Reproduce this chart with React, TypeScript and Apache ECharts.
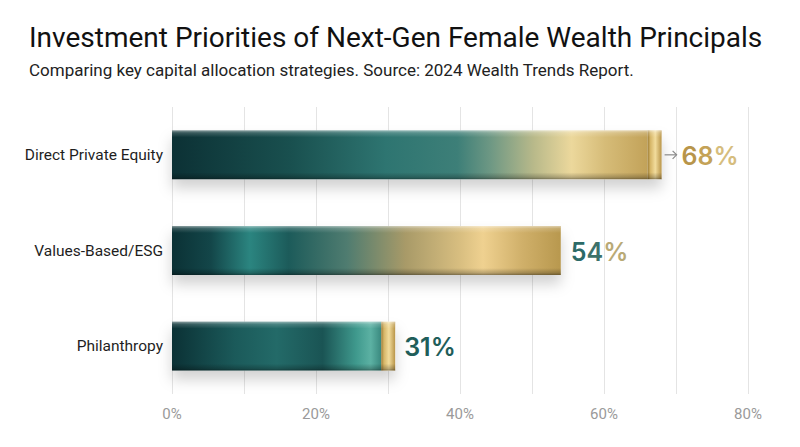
import React, { useEffect, useRef } from "react";
import * as echarts from "echarts";

const categories = ["Direct Private Equity", "Values-Based/ESG", "Philanthropy"];
const values = [68, 54, 31];
const axisMax = 80;
const axisStep = 10;
const labelStep = 20;

type BarStyle = {
  stops: [number, string][];
  cap: boolean;
  arrow: boolean;
  labelGap: number;
  labelColors: string[];
};

const barStyles: BarStyle[] = [
  {
    stops: [
      [0, "#0c3135"],
      [0.25, "#19504f"],
      [0.45, "#2e7571"],
      [0.6, "#3d7f78"],
      [0.67, "#6e9884"],
      [0.76, "#b8b98a"],
      [0.84, "#ecd89c"],
      [0.91, "#d6bc78"],
      [1, "#c2a259"],
    ],
    cap: true,
    arrow: true,
    labelGap: 20,
    labelColors: ["#b8954a", "#c4a257", "#d6bd7e"],
  },
  {
    stops: [
      [0, "#0b3135"],
      [0.1, "#134649"],
      [0.2, "#2b8580"],
      [0.3, "#1c5b5a"],
      [0.45, "#4f7c70"],
      [0.6, "#a89a68"],
      [0.74, "#d8be80"],
      [0.8, "#efd190"],
      [0.9, "#d0b06a"],
      [1, "#b8984e"],
    ],
    cap: false,
    arrow: false,
    labelGap: 10,
    labelColors: ["#2c6a67", "#3d716a", "#b9aa76"],
  },
  {
    stops: [
      [0, "#0b3135"],
      [0.3, "#1b5a5a"],
      [0.5, "#236a68"],
      [0.72, "#1a5454"],
      [0.88, "#3f998d"],
      [0.95, "#5cb1a3"],
      [1, "#3a897f"],
    ],
    cap: true,
    arrow: false,
    labelGap: 9,
    labelColors: ["#1f5e5a", "#1f5e5a", "#1f5e5a"],
  },
];

const CAP_W = 14;
const BAR_RATIO = 0.51;

export default function App() {
  const ref = useRef<HTMLDivElement>(null);

  useEffect(() => {
    if (!ref.current) return;
    const chart = echarts.init(ref.current, null, { renderer: "svg" });

    const renderItem = (params: any, api: any) => {
      const v = api.value(0);
      const idx = api.value(1);
      const st = barStyles[idx];
      const start = api.coord([0, idx]);
      const end = api.coord([v, idx]);
      const band = api.size([0, 1])[1];
      const h = band * BAR_RATIO;
      const y = start[1] - h / 2;
      const x0 = start[0];
      const x1 = end[0];
      const bodyEnd = st.cap ? x1 - CAP_W : x1;
      const children: any[] = [];

      children.push({
        type: "rect",
        shape: { x: x0, y, width: x1 - x0, height: h, r: 1 },
        style: {
          fill: "#ffffff",
          shadowBlur: 14,
          shadowOffsetY: 9,
          shadowColor: "rgba(0,0,0,0.18)",
        },
      });
      children.push({
        type: "rect",
        shape: { x: x0, y, width: bodyEnd - x0, height: h },
        style: {
          fill: new echarts.graphic.LinearGradient(
            0, 0, 1, 0,
            st.stops.map(([o, c]) => ({ offset: o, color: c }))
          ),
        },
      });
      if (st.cap) {
        children.push({
          type: "rect",
          shape: { x: bodyEnd, y, width: CAP_W, height: h },
          style: {
            fill: new echarts.graphic.LinearGradient(0, 0, 1, 0, [
              { offset: 0, color: "#9c7c36" },
              { offset: 0.2, color: "#d6b668" },
              { offset: 0.55, color: "#f2dc9c" },
              { offset: 1, color: "#b89448" },
            ]),
          },
        });
      }
      children.push({
        type: "rect",
        shape: { x: x0, y, width: x1 - x0, height: h },
        style: {
          fill: new echarts.graphic.LinearGradient(0, 0, 0, 1, [
            { offset: 0, color: "rgba(255,255,255,0.5)" },
            { offset: 0.05, color: "rgba(255,255,255,0.18)" },
            { offset: 0.14, color: "rgba(255,255,255,0)" },
            { offset: 0.86, color: "rgba(0,0,0,0)" },
            { offset: 0.96, color: "rgba(0,0,0,0.22)" },
            { offset: 1, color: "rgba(0,0,0,0.42)" },
          ]),
        },
      });
      if (st.arrow) {
        const ay = start[1];
        children.push({
          type: "line",
          shape: { x1: x1 + 3, y1: ay, x2: x1 + 15, y2: ay },
          style: { stroke: "#8a8a8a", lineWidth: 1.2 },
        });
        children.push({
          type: "polyline",
          shape: { points: [[x1 + 11, ay - 4], [x1 + 15, ay], [x1 + 11, ay + 4]] },
          style: { stroke: "#8a8a8a", lineWidth: 1.2, fill: "none" },
        });
      }
      const label = String(v) + "%";
      const s1 = label.slice(0, 1);
      const s2 = label.slice(1, -1);
      children.push({
        type: "text",
        x: x1 + st.labelGap,
        y: start[1] + 1,
        style: {
          text: `{a|${s1}}{b|${s2}}{c|%}`,
          verticalAlign: "middle",
          align: "left",
          rich: {
            a: { fill: st.labelColors[0], fontSize: 25, fontWeight: 600, fontFamily: "Inter" },
            b: { fill: st.labelColors[1], fontSize: 25, fontWeight: 600, fontFamily: "Inter" },
            c: { fill: st.labelColors[2], fontSize: 25, fontWeight: 600, fontFamily: "Inter" },
          },
        },
      });
      return { type: "group", children };
    };

    chart.setOption({
      animation: false,
      backgroundColor: "#ffffff",
      title: {
        text: "Investment Priorities of Next-Gen Female Wealth Principals",
        subtext: "Comparing key capital allocation strategies. Source: 2024 Wealth Trends Report.",
        left: 24,
        top: 18,
        itemGap: 10,
        textStyle: { fontFamily: "Roboto", fontSize: 28, fontWeight: "normal", color: "#111111" },
        subtextStyle: { fontFamily: "Roboto", fontSize: 17, color: "#222222" },
      },
      grid: { left: 172, right: 52, top: 107, bottom: 53 },
      xAxis: {
        type: "value",
        min: 0,
        max: axisMax,
        interval: axisStep,
        axisLine: { show: false },
        axisTick: { show: false },
        splitLine: { lineStyle: { color: "#e4e4e4", width: 1 } },
        axisLabel: {
          color: "#9a9a9a",
          fontSize: 15,
          fontFamily: "Roboto",
          margin: 12,
          formatter: (val: number) => (val % labelStep === 0 ? `${val}%` : ""),
        },
      },
      yAxis: {
        type: "category",
        data: categories,
        inverse: true,
        axisLine: { show: false },
        axisTick: { show: false },
        splitLine: { show: false },
        axisLabel: { color: "#1e1e1e", fontSize: 15.5, fontFamily: "Roboto", margin: 9 },
      },
      series: [
        {
          type: "custom",
          renderItem,
          encode: { x: 0, y: 1 },
          data: values.map((v, i) => [v, i]),
          clip: false,
          z: 3,
        },
      ],
    });

    return () => chart.dispose();
  }, []);

  return (
    <div
      ref={ref}
      style={{ position: "fixed", left: 0, top: 0, width: 800, height: 447, background: "#fff" }}
    />
  );
}
